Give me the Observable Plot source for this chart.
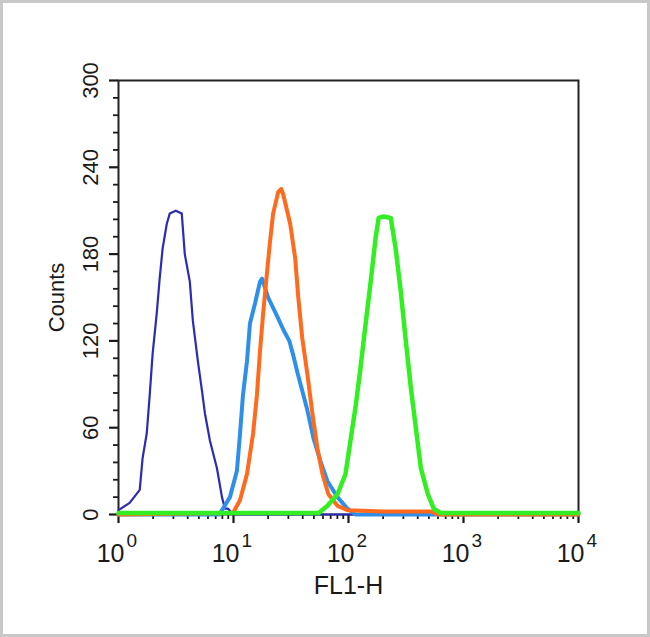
<!DOCTYPE html>
<html>
<head>
<meta charset="utf-8">
<script src="https://cdn.jsdelivr.net/npm/d3@7"></script>
<script src="https://cdn.jsdelivr.net/npm/@observablehq/plot@0.6"></script>
<style>
  html, body { margin: 0; padding: 0; background: #fff; }
  #chart svg { display: block; border: 3px solid #c8c8c8; }
</style>
</head>
<body>
<div id="chart"></div>
<script>
// ---- axis ticks ----
const majorX = [1, 10, 100, 1000, 10000];
const exponents = ["0", "1", "2", "3", "4"];
const minorX = [2,3,4,5,6,7,8,9, 20,30,40,50,60,70,80,90, 200,300,400,500,600,700,800,900, 2000,3000,4000,5000,6000,7000,8000,9000];
const yTicks = [0, 60, 120, 180, 240, 300];
const yMinor = [12,24,36,48, 72,84,96,108, 132,144,156,168, 192,204,216,228, 252,264,276,288];

// ---- series (FL1-H value, counts) ----
const darkBlueX = [1.0, 1.25, 1.53, 1.62, 1.76, 1.87, 1.98, 2.15, 2.28, 2.42, 2.63, 2.79, 3.15, 3.55, 3.77, 4.17, 4.43, 4.90, 5.31, 5.64, 6.24, 7.18, 7.94, 8.43, 8.96, 10, 10000];
const darkBlueY = [3, 8, 17, 39, 56, 83, 111, 139, 163, 184, 201, 208, 210, 208, 180, 161, 134, 106, 86, 70, 51, 32, 12, 4, 4, 0, 0];

const lightBlueX = [1, 7.5, 8.09, 9.31, 10.7, 11.4, 12.1, 13.1, 13.9, 15.4, 17.0, 17.7, 20.0, 24.0, 27.4, 30.6, 33.1, 36.0, 40.1, 43.9, 49.5, 56.9, 65.6, 80.2, 98, 115, 10000];
const lightBlueY = [0, 0, 4, 12, 30, 56, 83, 106, 132, 146, 161, 163, 150, 137, 127, 120, 110, 98, 84, 72, 53, 37, 23, 12, 4, 0, 0];

const orangeX = [1, 9.9, 11.4, 13.1, 14.8, 16.0, 17.0, 18.1, 19.6, 20.8, 22.1, 24.5, 26.0, 27.1, 31.1, 34.4, 36.6, 39.6, 43.9, 48.5, 53.6, 59.3, 66.9, 80.2, 98, 200, 525, 600, 10000];
const orangeY = [0, 1, 10, 28, 56, 83, 113, 139, 168, 189, 208, 223, 225, 221, 201, 177, 150, 122, 97, 70, 46, 28, 14, 6, 3, 2, 2, 0, 0];

const greenX = [1, 55, 65.6, 80.2, 94.2, 104, 115, 127, 141, 156, 172, 183, 202, 233, 257, 285, 315, 348, 385, 426, 490, 552, 636, 10000];
const greenY = [1, 1, 6, 14, 28, 51, 74, 101, 132, 161, 191, 205, 206, 205, 184, 154, 120, 88, 60, 32, 14, 4, 1, 1];

const font = "'Liberation Sans', Arial, Helvetica, sans-serif";

function series(xs, ys, stroke, w) {
  return Plot.line(ys, {x: (d, i) => xs[i], y: d => d, stroke, strokeWidth: w, strokeLinejoin: "round"});
}

const chart = Plot.plot({
  width: 644,
  height: 631,
  marginLeft: 115,
  marginRight: 69,
  marginTop: 77,
  marginBottom: 120,
  style: {fontFamily: font, color: "#1a1a1a", background: "#fff", overflow: "visible"},
  x: {type: "log", domain: [1, 10000], axis: null},
  y: {domain: [0, 300], axis: null},
  marks: [
    Plot.axisX({ticks: minorX, tickSize: 5, tickFormat: () => "", anchor: "bottom", strokeWidth: 1.8}),
    Plot.axisX({ticks: majorX, tickSize: 9, tickFormat: () => "", anchor: "bottom", strokeWidth: 2.2}),
    Plot.axisY({ticks: yMinor, tickSize: 5, tickFormat: () => "", anchor: "left", strokeWidth: 1.8}),
    Plot.axisY({ticks: yTicks, tickSize: 9, tickFormat: () => "", anchor: "left", strokeWidth: 2.2}),
    Plot.frame({stroke: "#222", strokeWidth: 2}),
    series(darkBlueX, darkBlueY, "#2b2bb3", 2.2),
    series(lightBlueX, lightBlueY, "#2d8fea", 4),
    series(orangeX, orangeY, "#ff6a1c", 4),
    series(greenX, greenY, "#33ee22", 4.5),
    Plot.text(yTicks, {y: d => d, text: d => String(d), frameAnchor: "left", dx: -28, dy: 0, rotate: -90, fontSize: 22, textAnchor: "middle", lineAnchor: "middle"}),
    Plot.text(exponents, {x: (d, i) => majorX[i], text: () => "10", frameAnchor: "bottom", dy: 39, dx: 6, textAnchor: "end", lineAnchor: "middle", fontSize: 25}),
    Plot.text(exponents, {x: (d, i) => majorX[i], text: d => d, frameAnchor: "bottom", dy: 26, dx: 8, textAnchor: "start", lineAnchor: "middle", fontSize: 19}),
    Plot.text(["FL1-H"], {text: d => d, frameAnchor: "bottom", dy: 71, fontSize: 25, lineAnchor: "middle"}),
    Plot.text(["Counts"], {text: d => d, frameAnchor: "left", dx: -62, rotate: -90, fontSize: 22, lineAnchor: "middle", textAnchor: "middle"})
  ]
});
document.getElementById("chart").appendChild(chart);
</script>
</body>
</html>
